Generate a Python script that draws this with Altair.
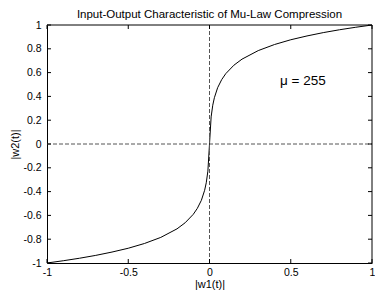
import altair as alt
import pandas as pd

# curve points (x = |w1(t)|, y = |w2(t)|)
xs = [-1.0, -0.9, -0.8, -0.7, -0.6, -0.5, -0.4, -0.3, -0.2, -0.15, -0.1, -0.075, -0.05, -0.03, -0.02, -0.01, 0.0,
      0.01, 0.02, 0.03, 0.05, 0.075, 0.1, 0.15, 0.2, 0.3, 0.4, 0.5, 0.6, 0.7, 0.8, 0.9, 1.0]
ys = [-1.0, -0.981, -0.960, -0.936, -0.908, -0.876, -0.836, -0.785, -0.713, -0.662, -0.591, -0.541, -0.473, -0.389, -0.326, -0.228, 0.0,
      0.228, 0.326, 0.389, 0.473, 0.541, 0.591, 0.662, 0.713, 0.785, 0.836, 0.876, 0.908, 0.936, 0.960, 0.981, 1.0]

x_ticks = [-1, -0.5, 0, 0.5, 1]
y_ticks = [-1, -0.8, -0.6, -0.4, -0.2, 0, 0.2, 0.4, 0.6, 0.8, 1]

title_text = "Input-Output Characteristic of Mu-Law Compression"
x_title = "|w1(t)|"
y_title = "|w2(t)|"
note_text = ["\u03bc = 255"]
note_x = [0.575]
note_y = [0.53]

W, H = 325, 238
FONT = "Liberation Sans"

curve = pd.DataFrame({"x": xs, "y": ys})
xt = pd.DataFrame({"x": x_ticks})
yt = pd.DataFrame({"y": y_ticks})
note = pd.DataFrame({"t": note_text, "x": note_x, "y": note_y})
zx = pd.DataFrame({"x": [0]})
zy = pd.DataFrame({"y": [0]})
one = pd.DataFrame({"k": [0]})

xs_scale = alt.Scale(domain=[-1, 1], nice=False, zero=False)
ys_scale = alt.Scale(domain=[-1, 1], nice=False, zero=False)

common = dict(ticks=False, tickSize=0, grid=False, labelExpr="toString(datum.value)",
              domainColor="black", labelColor="black", titleColor="black",
              labelFont=FONT, titleFont=FONT, labelFontSize=10.5, titleFontSize=11,
              titleFontWeight="normal", labelFlush=False, labelOverlap=False)
x_axis = alt.Axis(values=x_ticks, title=x_title, labelPadding=4, titlePadding=1, **common)
y_axis = alt.Axis(values=y_ticks, title=y_title, labelPadding=6, titlePadding=2, **common)


def X():
    return alt.X("x:Q", scale=xs_scale, axis=x_axis)


def Y():
    return alt.Y("y:Q", scale=ys_scale, axis=y_axis)


line = alt.Chart(curve).mark_line(color="black", strokeWidth=1, clip=True).encode(x=X(), y=Y())

vdash = alt.Chart(zx).mark_rule(color="#555555", strokeDash=[4, 2], strokeWidth=1).encode(
    x=X(), y=alt.value(0), y2=alt.value(H))
hdash = alt.Chart(zy).mark_rule(color="#555555", strokeDash=[4, 2], strokeWidth=1).encode(
    y=Y(), x=alt.value(0), x2=alt.value(W))

TL = 4
bot_ticks = alt.Chart(xt).mark_rule(color="black").encode(x=X(), y=alt.value(H), y2=alt.value(H - TL))
top_ticks = alt.Chart(xt).mark_rule(color="black").encode(x=X(), y=alt.value(0), y2=alt.value(TL))
left_ticks = alt.Chart(yt).mark_rule(color="black").encode(y=Y(), x=alt.value(0), x2=alt.value(TL))
right_ticks = alt.Chart(yt).mark_rule(color="black").encode(y=Y(), x=alt.value(W), x2=alt.value(W - TL))

frame_top = alt.Chart(one).mark_rule(color="black").encode(
    x=alt.value(0), x2=alt.value(W), y=alt.value(0))
frame_right = alt.Chart(one).mark_rule(color="black").encode(
    x=alt.value(W), y=alt.value(0), y2=alt.value(H))

label = alt.Chart(note).mark_text(font=FONT, fontSize=13.5, color="black", align="center",
                                  baseline="middle").encode(x=X(), y=Y(), text="t:N")

chart = alt.layer(line, hdash, vdash, bot_ticks, top_ticks, left_ticks, right_ticks,
                  frame_top, frame_right, label).properties(
    width=W, height=H,
    title=alt.TitleParams(title_text, font=FONT, fontSize=11.5, fontWeight="normal", color="black",
                          offset=0, anchor="middle"),
    autosize=alt.AutoSizeParams(type="none"),
    padding={"left": 39, "top": 17, "right": 3, "bottom": 27},
    background="white",
).configure_view(stroke=None).configure_axis(labelOverlap=False)

chart.save("out.html", embed_options={"renderer": "svg", "actions": False})
